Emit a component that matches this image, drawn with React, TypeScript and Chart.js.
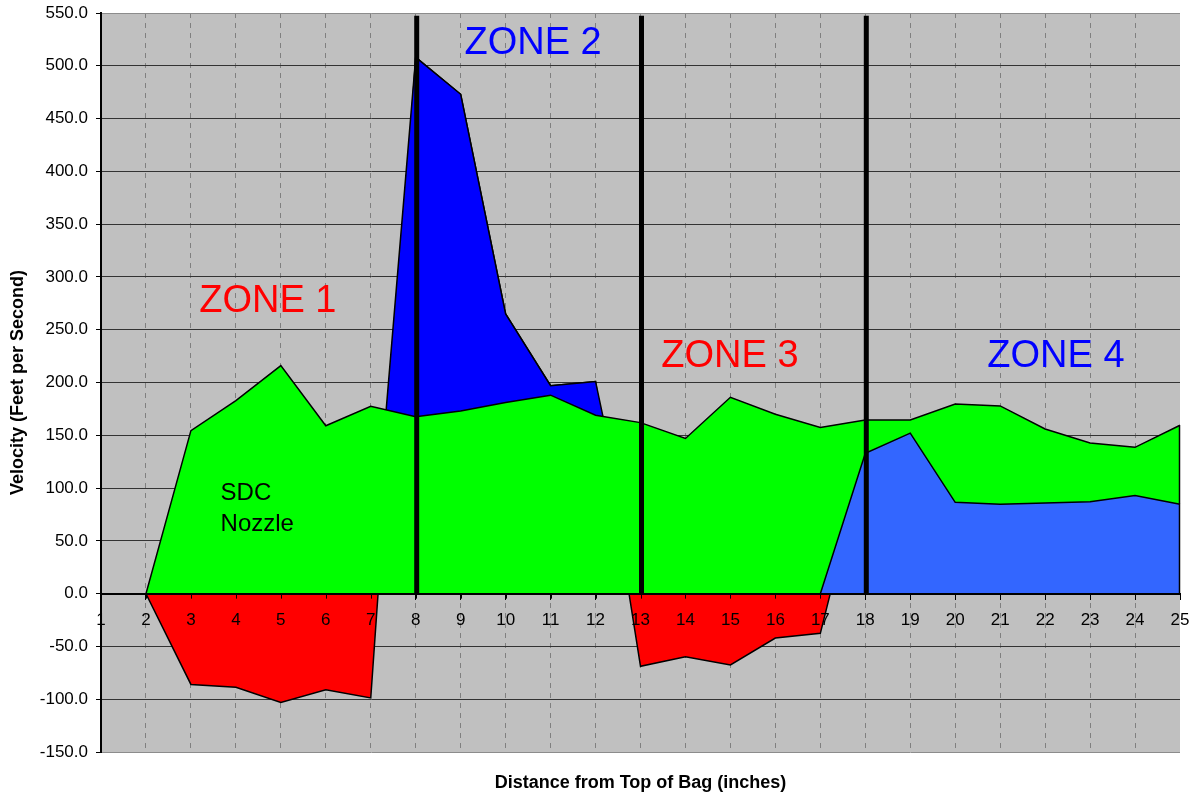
import React, { useEffect, useRef } from "react";
import { Chart, registerables } from "chart.js";

Chart.register(...registerables);

// ---------- data ----------
const categories = [
  "1", "2", "3", "4", "5", "6", "7", "8", "9", "10", "11", "12", "13",
  "14", "15", "16", "17", "18", "19", "20", "21", "22", "23", "24", "25",
];

// full measured velocity profile (red where negative)
const velocityProfile = [
  0, 0, -86, -88.7, -103, -91, -98.8, 508, 473, 265, 197, 201, -68.8,
  -59.7, -67.6, -42, -37.6, 133, 152, 86.5, 84.6, 85.9, 87, 93, 84.6,
];

// zone 2 velocity (dark blue)
const zone2Velocity = [
  0, 0, 0, 0, 0, 0, 0, 508, 473, 265, 197, 201, 0,
  0, 0, 0, 0, 0, 0, 0, 0, 0, 0, 0, 0,
];

// SDC nozzle velocity (green)
const sdcNozzle = [
  0, 0, 154.4, 182.8, 216, 159, 177.5, 167.6, 173, 181, 188, 169, 162,
  147, 186, 170, 157.5, 164.5, 164.5, 179.7, 177.8, 156, 142.7, 138.6, 159.5,
];

// zone 4 velocity (light blue)
const zone4Velocity = [
  0, 0, 0, 0, 0, 0, 0, 0, 0, 0, 0, 0, 0,
  0, 0, 0, 0, 133, 152, 86.5, 84.6, 85.9, 87, 93, 84.6,
];

const zoneBoundaries = ["8", "13", "18"];
const zoneBoundaryTop = 547.5;

const yMin = -150;
const yMax = 550;
const yStep = 50;

const zoneLabels = ["ZONE 1", "ZONE 2", "ZONE 3", "ZONE 4"];
const zoneLabelAt = [3.71, 9.61, 13.99, 21.24]; // category index
const zoneLabelBaseline = [266.5, 511, 215, 214.5]; // value units
const zoneLabelColors = ["#FF0000", "#0000FF", "#FF0000", "#0000FF"];

const noteLines = ["SDC", "Nozzle"];
const noteAt = 2.66;
const noteBaselines = [89, 59.7];

const FONT = "'Liberation Sans', Arial, Helvetica, sans-serif";

const overlayPlugin = {
  id: "overlay",
  beforeDraw(chart: any) {
    const { ctx, chartArea } = chart;
    ctx.save();
    ctx.fillStyle = "#C0C0C0";
    ctx.fillRect(chartArea.left, chartArea.top, chartArea.right - chartArea.left, chartArea.bottom - chartArea.top);
    ctx.restore();
  },
  afterDatasetsDraw(chart: any) {
    const { ctx } = chart;
    const xs = chart.scales.x;
    const ys = chart.scales.y;
    const y0 = ys.getPixelForValue(0);
    ctx.save();
    // closing edge of the areas at the last category
    const last = categories.length - 1;
    const xl = xs.getPixelForValue(last);
    ctx.strokeStyle = "#000";
    ctx.lineWidth = 1.5;
    ctx.beginPath();
    ctx.moveTo(xl - 0.5, ys.getPixelForValue(sdcNozzle[last]));
    ctx.lineTo(xl - 0.5, y0);
    ctx.stroke();
    // tick marks below zero line
    ctx.lineWidth = 1;
    categories.forEach((_, i) => {
      const px = Math.round(xs.getPixelForValue(i)) + 0.5;
      ctx.beginPath();
      ctx.moveTo(px, y0);
      ctx.lineTo(px, y0 + 5);
      ctx.stroke();
    });
    // zone boundary lines
    ctx.lineWidth = 5;
    zoneBoundaries.forEach((c) => {
      const px = xs.getPixelForValue(categories.indexOf(c)) + 1;
      ctx.beginPath();
      ctx.moveTo(px, ys.getPixelForValue(zoneBoundaryTop));
      ctx.lineTo(px, y0);
      ctx.stroke();
    });
    // zone labels
    ctx.font = `38px ${FONT}`;
    ctx.textAlign = "center";
    ctx.textBaseline = "alphabetic";
    zoneLabels.forEach((t, i) => {
      ctx.fillStyle = zoneLabelColors[i];
      ctx.fillText(t, xs.getPixelForValue(zoneLabelAt[i]), ys.getPixelForValue(zoneLabelBaseline[i]));
    });
    // note
    ctx.font = `24px ${FONT}`;
    ctx.textAlign = "left";
    ctx.fillStyle = "#000";
    noteLines.forEach((t, i) => {
      ctx.fillText(t, xs.getPixelForValue(noteAt), ys.getPixelForValue(noteBaselines[i]));
    });
    ctx.restore();
  },
};

export default function App() {
  const ref = useRef<HTMLCanvasElement | null>(null);

  useEffect(() => {
    if (!ref.current) return;
    Chart.defaults.font.family = FONT;
    Chart.defaults.color = "#000";
    const area = (label: string, data: number[], color: string, order: number) => ({
      label,
      data,
      backgroundColor: color,
      borderColor: "#000",
      borderWidth: 1.5,
      fill: "origin",
      pointRadius: 0,
      tension: 0,
      order,
    });
    const chart = new Chart(ref.current, {
      type: "line",
      data: {
        labels: categories,
        datasets: [
          area("Velocity", velocityProfile, "#FF0000", 4),
          area("Zone 2", zone2Velocity, "#0000FF", 3),
          area("SDC Nozzle", sdcNozzle, "#00FF00", 2),
          area("Zone 4", zone4Velocity, "#3366FF", 1),
        ],
      },
      options: {
        animation: false,
        responsive: true,
        maintainAspectRatio: false,
        layout: { padding: { left: 0, right: 17, top: 13, bottom: 0 } },
        plugins: {
          legend: { display: false },
          tooltip: { enabled: false },
          title: {
            display: true,
            position: "bottom",
            fullSize: false,
            text: "Distance from Top of Bag (inches)",
            font: { size: 18, weight: "bold" },
            color: "#000",
            padding: { top: 20, bottom: 3.4 },
          },
        },
        scales: {
          x: {
            type: "category",
            position: { y: 0 } as any,
            offset: false,
            afterFit: (s: any) => {
              s.height = 0;
              s.paddingLeft = 0;
              s.paddingRight = 0;
            },
            grid: {
              color: (c: any) => (c.index === categories.length - 1 ? "rgba(0,0,0,0)" : "#808080"),
              lineWidth: 1,
              drawTicks: true,
              tickLength: 5,
              tickColor: "#000",
            },
            border: { display: true, color: "#000", width: 2, dash: [5, 5], z: 1 },
            ticks: {
              autoSkip: false,
              maxRotation: 0,
              minRotation: 0,
              padding: 11,
              font: { size: 17 },
              color: "#000",
              z: 1,
            },
          },
          y: {
            type: "linear",
            min: yMin,
            max: yMax,
            afterFit: (s: any) => {
              s.width = 101;
              s.paddingTop = 0;
              s.paddingBottom = 0;
            },
            ticks: {
              stepSize: yStep,
              padding: 8,
              font: { size: 17 },
              color: "#000",
              callback: (v: any) => Number(v).toFixed(1),
            },
            grid: {
              color: (c: any) =>
                c.tick && (c.tick.value === yMax || c.tick.value === yMin) ? "#8c8c8c" : "#333333",
              lineWidth: 1,
              tickLength: 5,
              tickColor: "#000",
            },
            border: { display: true, color: "#000", width: 2, z: 1 },
            title: {
              display: true,
              text: "Velocity (Feet per Second)",
              font: { size: 18, weight: "bold" },
              color: "#000",
              padding: { top: 7, bottom: 0 },
            },
          },
        },
      },
      plugins: [overlayPlugin],
    });
    return () => chart.destroy();
  }, []);

  return (
    <div style={{ position: "fixed", left: 0, top: 0, width: 1197, height: 797, background: "#fff" }}>
      <canvas ref={ref} />
    </div>
  );
}
